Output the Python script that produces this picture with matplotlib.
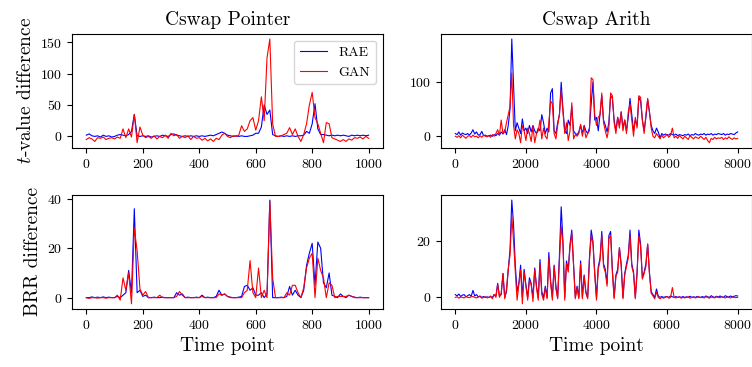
import numpy as np
import matplotlib
matplotlib.use('Agg')
import matplotlib.pyplot as plt

plt.rcParams['font.family'] = ['cmr10', 'DejaVu Serif']
plt.rcParams['mathtext.fontset'] = 'cm'
plt.rcParams['axes.formatter.use_mathtext'] = True
plt.rcParams['axes.unicode_minus'] = False

# Cswap Pointer, time points 0..1000 every 10
t_ptr = np.arange(0, 1001, 10)

ptr_tval_rae = [
    2, 4, 1, 0, 1, -1, 2, 0, 1, -1,
    0, 2, 3, 2, 1, 3, 8, 35, 1, 0,
    1, 0, 1, -1, 0, 1, 0, 2, 1, 0,
    3, 4, 2, 1, 0, 1, 0, 1, 0, 1,
    0, 1, 0, 1, 2, 1, 3, 5, 7, 5,
    2, 1, 0, 1, 0, 1, 0, 0, 1, 2,
    5, 5, 15, 50, 35, 42, 3, 1, 0, 1,
    0, 1, 0, 1, 0, 1, 1, 2, 8, 5,
    20, 52, 12, 3, 3, 2, 1, 2, 1, 2,
    1, 2, 1, 0, 2, 1, 2, 1, 2, 1,
    2,
]
ptr_tval_gan = [
    -5, -2, -4, -8, -2, -3, -1, -5, -3, -2,
    -4, -1, -3, 12, -2, 12, -1, 35, -10, 15,
    2, -2, 0, -3, 1, -4, 0, -2, 2, -3,
    5, 1, 3, -3, 0, -2, 1, -5, 0, -3,
    -2, -6, -3, -7, -4, -8, -3, -5, 2, 5,
    0, -2, 1, 0, 2, 17, 8, 12, 25, 30,
    10, 25, 63, 25, 125, 155, 20, 0, 0, 1,
    3, 5, 14, 3, 12, 0, -8, 3, 20, 50,
    70, 30, 20, 5, -10, 22, 20, -2, -4, -6,
    -8, -5, -8, -4, -6, -2, -3, -1, -4, 0,
    -3,
]
ptr_brr_rae = [
    0, 0, 0.3, 0, 0.2, 0, 0.3, 0, 0.2, 0,
    0, 0.5, 0, 1, 2, 11, 2, 36, 2, 3,
    0.5, 1, 0, 0, 0.2, 0, 0, 0.2, 0, 0,
    0, 0, 2, 1, 1.5, 0, 0.2, 0, 0, 0.2,
    0, 1, 0, 0.2, 0, 0, 0.5, 3, 1, 1.5,
    0.5, 0.2, 0, 0, 0.2, 0.5, 4.5, 5, 3, 4,
    1, 1, 2, 0, 1.5, 39.5, 0, 0, 0, 0.2,
    0, 0.5, 4.5, 1, 3, 1, 0, 3, 13, 18,
    22, 5, 22.5, 20, 6, 4, 10, 1, 0.5, 0,
    1.5, 0.5, 0, 1, 0.5, 0.2, 0, 0.2, 0, 0,
    0,
]
ptr_brr_gan = [
    0, -0.3, 0, 0, -0.2, 0, 0, -0.2, 0, 0,
    0, 1, -1, 8, 3, 10, -2.5, 28, 19, 3.5,
    1, 2.5, 0, 0, 0, 0, 1, 0, 0, 0,
    0, 0, 0.5, 2.5, 1, 0, 0, 0, 0, 0,
    0, 0.5, 0, 0, 0, 0, 0, 1.5, 1, 1.5,
    0.5, 0, 0, 0, 0, 0, 2, 3, 15, 2,
    0, 12, 0, 3, 0, 39, 8, 0, 0, 0,
    0, 2, 1, 5, 5, 2, 0, 4, 12, 16,
    18, 0, 16, 11, 8, 0, 6, 5, 0, 0.5,
    0.5, 0.5, 0.5, 1, 0.5, 0, 0, 0, 0, 0,
    0,
]

# Cswap Arith, time points 0..8000 every 50
t_ari = np.arange(0, 8001, 50)

ari_tval_rae = [
    5, 3, 8, 2, 6, 4, 3, 5, 2, 6,
    12, 4, 8, 2, 3, 9, 1, 2, 0, 1,
    2, 0, 3, 1, 5, 2, 8, 4, 12, 3,
    20, 50, 180, 95, 10, 25, 15, 5, 32, 10,
    15, 5, 20, 8, 20, 10, 5, 15, 10, 40,
    25, 5, 15, 8, 80, 88, 10, 5, 25, 40,
    100, 50, 10, 5, 30, 20, 55, 10, 5, 3,
    8, 20, 5, 20, 10, 5, 15, 60, 100, 30,
    35, 10, 40, 75, 30, 20, 8, 25, 75, 70,
    30, 10, 35, 20, 45, 15, 30, 10, 35, 70,
    40, 10, 30, 20, 72, 65, 30, 10, 35, 68,
    45, 20, 10, 5, 15, 8, -3, 5, 2, 4,
    3, 2, 5, 3, 2, 4, 1, 3, 2, 1,
    3, 2, 4, 1, 3, 2, 5, 3, 2, 4,
    3, 5, 2, 4, 3, 5, 2, 4, 3, 5,
    4, 3, 5, 2, 4, 3, 5, 4, 3, 6,
    8,
]
ari_tval_gan = [
    0, -2, 1, -3, 2, -1, -4, 0, 1, -2,
    2, -1, 0, -3, 1, -2, 2, 0, -1, 1,
    -2, 3, 0, 5, 12, 2, 30, 5, 8, 25,
    40, 55, 117, 20, -5, 12, 5, -12, 20, 10,
    -8, 15, 5, -10, 18, -12, 5, 10, 30, -5,
    15, 0, -5, 25, 65, 60, 5, -5, 20, 40,
    85, 45, 5, 25, -8, 10, 62, -5, 3, 0,
    5, 22, 0, 18, -3, 5, 10, 108, 105, 40,
    20, 35, 40, 80, 25, 10, -3, 15, 80, 75,
    25, 5, 35, 15, 45, 10, 30, 5, 45, 60,
    30, 0, 35, 15, 75, 72, 30, 5, 40, 70,
    45, 15, 0, -3, 5, 0, -5, 2, -3, 0,
    3, -2, 2, 15, -3, 0, -4, 1, -2, -5,
    0, -3, -6, 1, -2, -5, -1, -3, -4, 0,
    -3, -6, -2, -8, -12, -4, -6, -2, -5, -3,
    -4, -2, -6, -3, -5, -1, -4, -6, -3, -5,
    -4,
]
ari_brr_rae = [
    1, 0.5, 1.2, 0.3, 0.8, 1, 0.2, 0.6, 1, 0.4,
    2.5, 0.5, 1, 0.2, 0.5, 0, 0.3, 0, 0.2, 0,
    0.2, 0, 1, 0.5, 5, 0.5, 1, 8.5, 0, 2,
    10, 17, 34.7, 26, 11.5, 2, 5, 11.5, 0, 10,
    4.5, 0, 7, 5, 0, 10.5, 4, 0, 13.5, 2,
    0, 4, 0, 16, 6, 0, 11.5, 4, 0, 15,
    32.3, 20, 0, 13, 10, 19, 24, 12, 0, 4,
    0, 13, 0, 8, 2, 0, 14, 24, 20, 9,
    0, 11, 14, 23.5, 12, 10, 5, 22, 23.5, 10,
    0, 8, 10, 17.7, 12, 0, 8.5, 12, 15, 24,
    12, 9, 0, 9, 24, 19, 7, 9, 12, 19,
    9, 2, 1, 0, 3, 0.5, 0, 0.3, 0, 0.2,
    0.3, 0, 0.5, 0.2, 0, 0.3, 0, 0.2, 0, 0.3,
    0, 0.2, 0, 0.4, 0, 0.2, 0, 0.3, 0.1, 0,
    0.3, 0, 0.5, 0.2, 0, 0.6, 0.2, 0, 0.4, 0.1,
    0.5, 0.2, 0, 0.6, 0.3, 0.1, 0.5, 0.2, 0.4, 0.6,
    0.5,
]
ari_brr_gan = [
    0, 0.2, -0.3, 0.1, 0, -0.2, 0.3, 0, -0.1, 0.2,
    0.3, 0, -0.2, 0.1, 0.3, -0.3, 0, 0.2, -0.2, 0,
    0.5, -0.5, 1, 0, 4.7, 0, 1.5, 8.5, -0.5, 3,
    10, 15, 29, 20, 9, -1, 4.5, 10, -2.3, 9,
    4, -1, 6, 4.5, -1.5, 10, 3.5, -1, 12, 1,
    -1, 3.5, -0.5, 14, 5, -1, 11, 3, -0.5, 13,
    25.5, 19, -1, 12, 9, 18, 23, 11, -0.5, 3.5,
    -0.5, 12, -0.5, 7.5, 1.5, -0.5, 13, 22, 19, 8,
    -1, 10, 13, 22, 11, 9, 4, 21, 22, 9,
    -0.5, 7.5, 9, 17.7, 11, -0.5, 8, 11, 14, 22,
    11, 8.5, -0.5, 8.5, 22, 18, 6.5, 8.5, 11, 19,
    8.5, 1.5, 0.5, -0.5, 2, 0, -0.5, 0, -0.3, 0,
    0.3, -0.3, 0, 3.5, 0, -0.2, 0, 0.2, -0.3, 0,
    -0.2, 0, 0.2, -0.3, 0, 0.1, -0.2, 0, 0.2, -0.1,
    0, -0.2, 0.2, 0, -0.3, 0.1, 0, -0.2, 0.2, 0,
    -0.1, 0.2, 0, -0.2, 0.1, 0, -0.2, 0.1, 0, -0.1,
    0,
]

fig = plt.figure(figsize=(7.52, 3.67), dpi=100)
ax_tl = fig.add_axes([0.096, 0.597, 0.413, 0.311])
ax_tr = fig.add_axes([0.5867, 0.597, 0.413, 0.311])
ax_bl = fig.add_axes([0.096, 0.158, 0.413, 0.311])
ax_br = fig.add_axes([0.5867, 0.158, 0.413, 0.311])

panels = [
    (ax_tl, t_ptr, ptr_tval_rae, ptr_tval_gan),
    (ax_tr, t_ari, ari_tval_rae, ari_tval_gan),
    (ax_bl, t_ptr, ptr_brr_rae, ptr_brr_gan),
    (ax_br, t_ari, ari_brr_rae, ari_brr_gan),
]
for ax, t, rae, gan in panels:
    ax.plot(t, rae, color='blue', linewidth=0.8, label='RAE')
    ax.plot(t, gan, color='red', linewidth=0.8, label='GAN')
    ax.tick_params(labelsize=10)

ax_tl.set_title('Cswap Pointer', fontsize=14)
ax_tr.set_title('Cswap Arith', fontsize=14)
ax_tl.set_ylabel('$t$-value difference', fontsize=14)
ax_bl.set_ylabel('BRR difference', fontsize=14)
ax_bl.set_xlabel('Time point', fontsize=14)
ax_br.set_xlabel('Time point', fontsize=14)

ax_tl.set_yticks([0, 50, 100, 150])
ax_tr.set_yticks([0, 100])
ax_bl.set_yticks([0, 20, 40])
ax_br.set_yticks([0, 20])

ax_tl.legend(loc='upper right', fontsize=10)

fig.savefig('out.png', dpi=100)
